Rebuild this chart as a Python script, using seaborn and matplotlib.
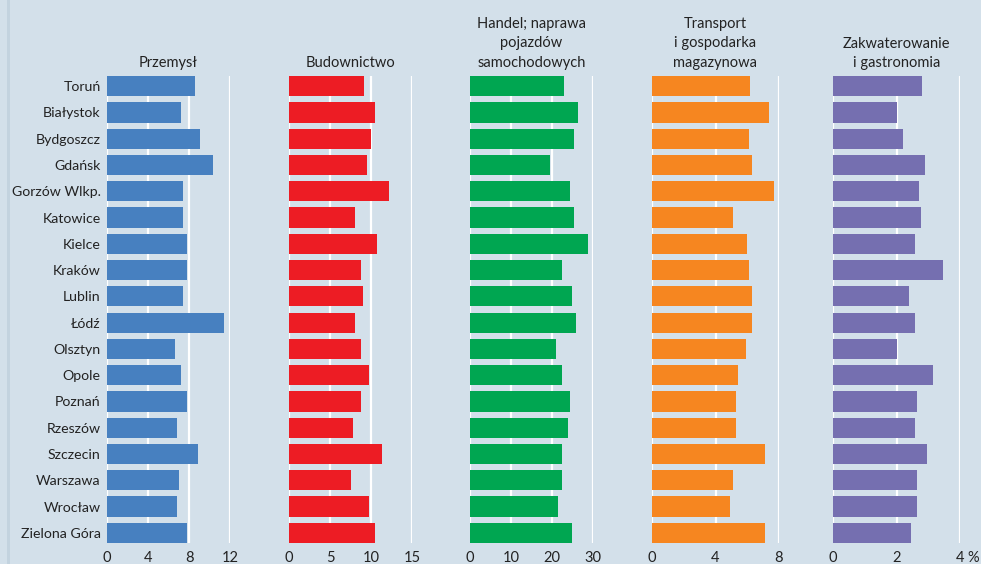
import matplotlib
matplotlib.use("Agg")
import matplotlib.pyplot as plt
import seaborn as sns
import pandas as pd

cities = ["Toruń", "Białystok", "Bydgoszcz", "Gdańsk", "Gorzów Wlkp.", "Katowice",
          "Kielce", "Kraków", "Lublin", "Łódź", "Olsztyn", "Opole", "Poznań",
          "Rzeszów", "Szczecin", "Warszawa", "Wrocław", "Zielona Góra"]

przemysl = [8.6, 7.2, 9.1, 10.3, 7.4, 7.4, 7.8, 7.8, 7.4, 11.4, 6.6, 7.2, 7.8, 6.8, 8.9, 7.0, 6.8, 7.8]
budownictwo = [9.1, 10.5, 10.0, 9.5, 12.2, 8.0, 10.7, 8.8, 9.0, 8.0, 8.8, 9.7, 8.8, 7.8, 11.4, 7.5, 9.7, 10.5]
handel = [22.9, 26.3, 25.4, 19.5, 24.4, 25.4, 28.8, 22.4, 24.9, 25.9, 21.0, 22.4, 24.4, 23.9, 22.4, 22.4, 21.5, 24.9]
transport = [6.2, 7.4, 6.1, 6.3, 7.7, 5.1, 6.0, 6.1, 6.3, 6.3, 5.9, 5.4, 5.3, 5.3, 7.1, 5.1, 4.9, 7.1]
zakwaterowanie = [2.80, 2.01, 2.20, 2.89, 2.70, 2.76, 2.58, 3.46, 2.39, 2.58, 2.01, 3.14, 2.64, 2.58, 2.95, 2.64, 2.64, 2.45]

titles = ["Przemysł", "Budownictwo", "Handel; naprawa\npojazdów\nsamochodowych",
          "Transport\ni gospodarka\nmagazynowa", "Zakwaterowanie\ni gastronomia"]
ticks = [[0, 4, 8, 12], [0, 5, 10, 15], [0, 10, 20, 30], [0, 4, 8], [0, 2, 4]]
tick_labels = [["0", "4", "8", "12"], ["0", "5", "10", "15"], ["0", "10", "20", "30"],
               ["0", "4", "8"], ["0", "2", "4"]]
colors = ["#4780c0", "#ed1c24", "#00a651", "#f68620", "#756fb0"]
series = [przemysl, budownictwo, handel, transport, zakwaterowanie]

BG = "#d3e0ea"
TXT = "#222222"
FS = 10.5
W, H = 981, 564
sns.set_theme(style="white")
plt.rcParams["font.family"] = ["Lato", "DejaVu Sans"]

fig = plt.figure(figsize=(W / 100, H / 100), dpi=100, facecolor=BG)

# left decorative strip
fig.add_artist(plt.Rectangle((7 / W, 0), 2.5 / W, 1, transform=fig.transFigure,
                             color="#c3d3df", lw=0, zorder=-1))

xpix = [(107, 230), (289, 412), (470, 593), (652, 779), (833, 960)]
top_px, bot_px = 76, 543

for i, (vals, col) in enumerate(zip(series, colors)):
    x0, x1 = xpix[i]
    ax = fig.add_axes([x0 / W, 1 - bot_px / H, (x1 - x0) / W, (bot_px - top_px) / H])
    ax.set_facecolor(BG)
    df = pd.DataFrame({"city": cities, "value": vals})
    for t in ticks[i]:
        ax.axvline(t, color="white", lw=1.6, zorder=0)
    sns.barplot(data=df, x="value", y="city", color=col, saturation=1,
                width=0.77, ax=ax, zorder=2, linewidth=0, edgecolor="none")
    ax.set_xlim(0, ticks[i][-1])
    ax.set_ylim(len(cities) - 1 + 0.385, -0.385)
    ax.set_xticks(ticks[i])
    ax.set_xticklabels(tick_labels[i], fontsize=FS, color=TXT)
    ax.tick_params(axis="x", length=0, pad=5.5)
    ax.set_xlabel("")
    ax.set_ylabel("")
    if i == 0:
        ax.tick_params(axis="y", length=0, pad=4.5, labelsize=10.2, labelcolor=TXT)
    else:
        ax.set_yticks([])
    for s in ax.spines.values():
        s.set_visible(False)
    ax.text(0.5, 1.0 + 6 / (bot_px - top_px), titles[i], transform=ax.transAxes,
            ha="center", va="bottom", fontsize=FS, color=TXT, linespacing=1.5)
    if i == 4:
        ax.annotate("%", xy=(4, 0), xycoords=("data", "axes fraction"),
                    xytext=(5, -5.5), textcoords="offset points",
                    ha="left", va="top", fontsize=FS, color=TXT,
                    annotation_clip=False)

fig.savefig("out.png", dpi=100, facecolor=BG)
